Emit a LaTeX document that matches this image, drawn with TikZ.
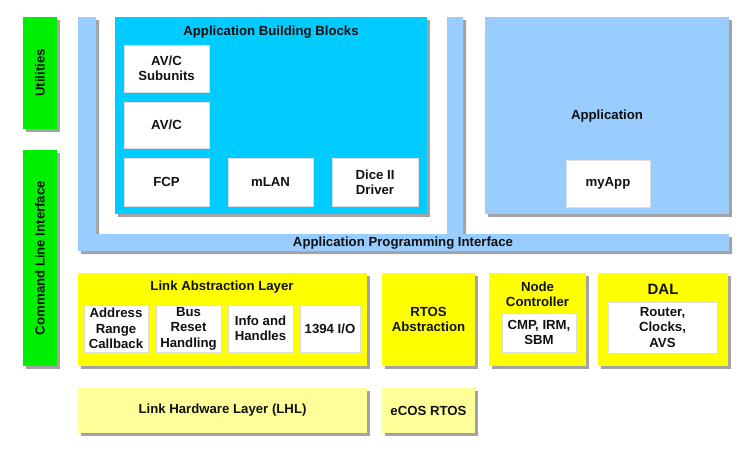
\documentclass[tikz,border=0pt]{standalone}
\usepackage{fontspec}
\setmainfont{Liberation Sans}
\usetikzlibrary{shadows}

\definecolor{utilgreen}{HTML}{00EE00}
\definecolor{abbcyan}{HTML}{00CCFF}
\definecolor{apiblue}{HTML}{99CCFF}
\definecolor{layeryellow}{HTML}{FFFF00}
\definecolor{hwyellow}{HTML}{FFFF99}
\definecolor{innerline}{HTML}{DDDDDD}
\definecolor{inktext}{HTML}{111111}

\newcommand{\boxfont}{\fontsize{13.2}{15.4}\selectfont\bfseries}

\tikzset{
  shade3/.style={drop shadow={shadow xshift=3pt,shadow yshift=-3pt,opacity=0.45,fill=black!80}},
  block/.style={rectangle,inner sep=0pt,shade3,font=\boxfont,text=inktext,align=center},
  greenbar/.style={block,fill=utilgreen},
  cyanblock/.style={block,fill=abbcyan},
  blueblock/.style={block,fill=apiblue},
  yellowblock/.style={block,fill=layeryellow},
  hwblock/.style={block,fill=hwyellow},
  whitebox/.style={rectangle,inner sep=0pt,fill=white,draw=innerline,line width=0.8pt,
                   font=\boxfont,text=inktext,align=center},
  caption/.style={inner sep=0pt,font=\boxfont,text=inktext,align=center},
}

% place a box given its corners in pixel units: #1 style, #2 name, #3 x1, #4 y1, #5 x2, #6 y2, #7 text
\newcommand{\pixbox}[7]{%
  \node[#1,minimum width={(#5-#3)*1pt},minimum height={(#6-#4)*1pt}]
    (#2) at ({(#3+#5)/2},{(#4+#6)/2}) {#7};}

\begin{document}
\begin{tikzpicture}[x=1pt,y=-1pt]
\path[use as bounding box,fill=white] (0,0) rectangle (750,450);

% side bars
\pixbox{greenbar}{util}{23}{17}{57}{129}{}
\node[caption,rotate=90] (utiltext) at (util.center) {Utilities};
\pixbox{greenbar}{cli}{23}{150}{57}{366}{}
\node[caption,rotate=90] (clitext) at (cli.center) {Command Line Interface};

% application programming interface (U-shaped frame)
\fill[apiblue,shade3] (78,17) -- (96,17) -- (96,234) -- (447,234) -- (447,17) -- (463,17)
  -- (463,234) -- (729,234) -- (729,251) -- (78,251) -- cycle;
\coordinate (apimid) at (403,243);
\node[caption] (apitext) at (apimid) {Application Programming Interface};

% application building blocks
\pixbox{cyanblock}{abb}{115}{17}{427}{214}{}
\node[caption] (abbtitle) at (271,32.5) {Application Building Blocks};
\pixbox{whitebox}{avcsub}{124}{45}{209}{92}{AV/C\\Subunits}
\pixbox{whitebox}{avc}{124}{102}{209}{148}{AV/C}
\pixbox{whitebox}{fcp}{124}{158}{209}{206}{FCP}
\pixbox{whitebox}{mlan}{228}{158}{313}{206}{mLAN}
\pixbox{whitebox}{dice}{332}{158}{418}{206}{Dice II\\Driver}

% application
\pixbox{blueblock}{app}{485}{17}{729}{214}{}
\node[caption] (apptitle) at (607,116) {Application};
\pixbox{whitebox}{myapp}{566}{160}{650}{207}{myApp}

% link abstraction layer
\pixbox{yellowblock}{lal}{78}{273}{367}{366}{}
\node[caption] (laltitle) at (222,287.5) {Link Abstraction Layer};
\pixbox{whitebox}{addr}{84}{305}{148}{352}{Address\\Range\\Callback}
\pixbox{whitebox}{bus}{156}{305}{221}{352}{Bus\\Reset\\Handling}
\pixbox{whitebox}{info}{228}{305}{293}{352}{Info and\\Handles}
\pixbox{whitebox}{io}{300}{305}{360}{352}{1394 I/O}

% rtos abstraction
\pixbox{yellowblock}{rtos}{382}{273}{475}{366}{RTOS\\Abstraction}

% node controller
\pixbox{yellowblock}{nc}{489}{273}{586}{366}{}
\node[caption] (nctitle) at (537.5,294.5) {Node\\Controller};
\pixbox{whitebox}{cmp}{502}{313}{576}{352}{CMP, IRM,\\SBM}

% dal
\pixbox{yellowblock}{dal}{598}{273}{728}{366}{}
\node[caption,font=\fontsize{15}{17}\selectfont\bfseries] (daltitle) at (663,289) {DAL};
\pixbox{whitebox}{router}{608}{302}{717}{353}{Router,\\Clocks,\\AVS}

% hardware layers
\pixbox{hwblock}{lhl}{78}{388}{367}{433}{Link Hardware Layer (LHL)}
\pixbox{hwblock}{ecos}{382}{388}{475}{433}{eCOS RTOS}
\end{tikzpicture}
\end{document}
